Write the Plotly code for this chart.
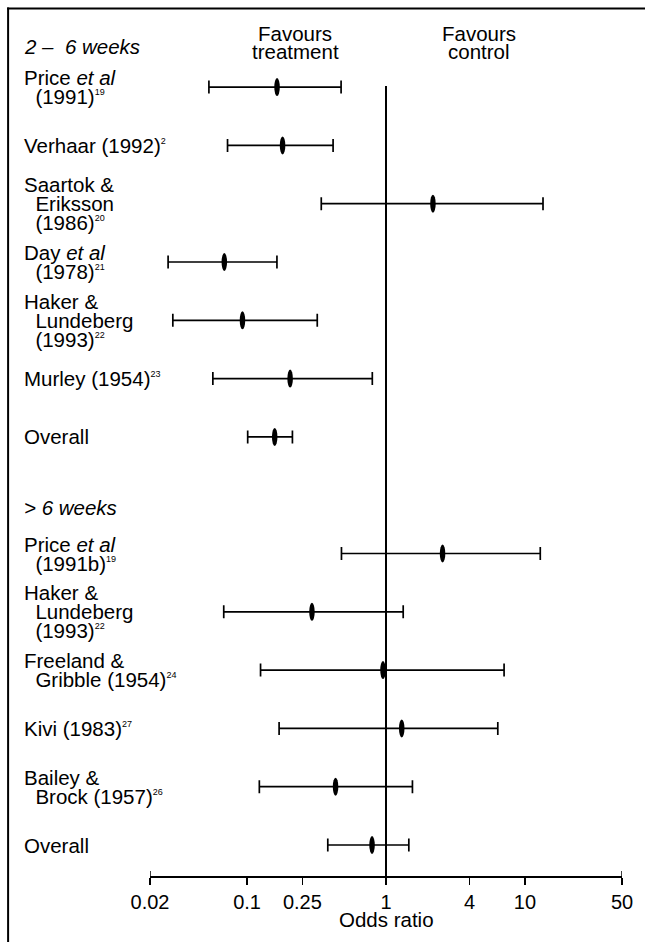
import plotly.graph_objects as go

# ---------------- data ----------------
study_lines = [
    ["Price <i>et al</i>", "(1991)<sup>19</sup>"],
    ["Verhaar (1992)<sup>2</sup>"],
    ["Saartok &", "Eriksson", "(1986)<sup>20</sup>"],
    ["Day <i>et al</i>", "(1978)<sup>21</sup>"],
    ["Haker &", "Lundeberg", "(1993)<sup>22</sup>"],
    ["Murley (1954)<sup>23</sup>"],
    ["Overall"],
    ["Price <i>et al</i>", "(1991b)<sup>19</sup>"],
    ["Haker &", "Lundeberg", "(1993)<sup>22</sup>"],
    ["Freeland &", "Gribble (1954)<sup>24</sup>"],
    ["Kivi (1983)<sup>27</sup>"],
    ["Bailey &", "Brock (1957)<sup>26</sup>"],
    ["Overall"],
]
row_pos = [0, 1, 2, 3, 4, 5, 6, 8, 9, 10, 11, 12, 13]
odds_ratio = [0.157, 0.172, 2.08, 0.0655, 0.0885, 0.195, 0.151,
              2.44, 0.280, 0.909, 1.24, 0.414, 0.758]
ci_low = [0.0531, 0.0723, 0.342, 0.0270, 0.0292, 0.0567, 0.101,
          0.478, 0.0679, 0.125, 0.170, 0.1225, 0.381]
ci_high = [0.475, 0.416, 13.5, 0.164, 0.320, 0.797, 0.212,
           12.9, 1.33, 7.08, 6.38, 1.55, 1.46]
group_titles = ["<i>2 –  6 weeks</i>", "<i>> 6 weeks</i>"]
tick_vals = [0.02, 0.1, 0.25, 1, 4, 10, 50]
tick_text = ["0.02", "0.1", "0.25", "1", "4", "10", "50"]
null_value = 1

# ---------------- layout geometry ----------------
OFF = 0  # body margin is removed in the page (see post_script below)
FONT = "Liberation Sans, Arial, Helvetica, sans-serif"
FS = 20.5
W, H = 645, 942
ML, MR, MT, MB = 150 - OFF, W - (624 - OFF), 20, H - (876 - OFF)
plot_w = W - ML - MR
plot_h = H - MT - MB
PX_PER_ROW = 58.3
y_bottom = 13 + (876 - 845) / PX_PER_ROW
y_top = y_bottom - plot_h / PX_PER_ROW


def px2paper_x(page_px):
    return (page_px - OFF - ML) / plot_w


def px2paper_y(page_py):
    return (H - MB - (page_py - OFF)) / plot_h


def sup(t):
    return t.replace("<sup>", "<sup><span style='font-size:9px'>").replace("</sup>", "</span></sup>")


fig = go.Figure()
fig.add_trace(go.Scatter(
    x=odds_ratio, y=row_pos, mode="markers",
    marker=dict(size=1, color="rgba(0,0,0,0)"),
    error_x=dict(type="data", symmetric=False,
                 array=[h - o for h, o in zip(ci_high, odds_ratio)],
                 arrayminus=[o - l for o, l in zip(odds_ratio, ci_low)],
                 color="black", thickness=1.7, width=6.5),
    hoverinfo="skip", showlegend=False,
))

shapes = []
# null line
shapes.append(dict(type="line", xref="x", yref="y", x0=null_value, x1=null_value,
                   y0=row_pos[0] - 0.02, y1=y_bottom, line=dict(color="black", width=2)))
# ellipse markers
for o, r in zip(odds_ratio, row_pos):
    shapes.append(dict(type="circle", xref="x", yref="y",
                       xsizemode="pixel", ysizemode="pixel",
                       xanchor=o, yanchor=r, x0=-5.5, x1=5.5, y0=-9, y1=9,
                       fillcolor="black", line=dict(width=0)))
# end ticks extending above axis
for tv in (tick_vals[0], tick_vals[-1]):
    shapes.append(dict(type="line", xref="x", yref="paper", ysizemode="pixel",
                       yanchor=0, x0=tv, x1=tv, y0=0, y1=5,
                       line=dict(color="black", width=1.5)))
# frame (left and top)
shapes.append(dict(type="line", xref="paper", yref="paper",
                   x0=px2paper_x(7.5), x1=px2paper_x(7.5),
                   y0=px2paper_y(7.5), y1=px2paper_y(H + 5),
                   line=dict(color="black", width=2)))
shapes.append(dict(type="line", xref="paper", yref="paper",
                   x0=px2paper_x(6.5), x1=px2paper_x(W + 5),
                   y0=px2paper_y(8.5), y1=px2paper_y(8.5),
                   line=dict(color="black", width=2)))

annotations = []
LINE_PITCH = 19
label_x = px2paper_x(21)
txtfont = dict(family=FONT, size=FS, color="black")
for lines, r in zip(study_lines, row_pos):
    n = len(lines)
    for i, t in enumerate(lines):
        shift = ((n - 1) / 2 - i) * LINE_PITCH
        text = sup(t) if i == 0 else "\u00a0\u00a0" + sup(t)
        annotations.append(dict(xref="paper", yref="y", x=label_x, y=r, yshift=shift,
                                text=text, showarrow=False, xanchor="left", yanchor="middle",
                                font=txtfont))
# group headings
annotations.append(dict(xref="paper", yref="y", x=label_x, y=row_pos[0], yshift=41,
                        text=group_titles[0], showarrow=False, xanchor="left", yanchor="middle",
                        font=txtfont))
annotations.append(dict(xref="paper", yref="y", x=label_x, y=row_pos[7], yshift=46,
                        text=group_titles[1], showarrow=False, xanchor="left", yanchor="middle",
                        font=txtfont))
# favours headers
for cx, l1, l2 in ((296, "Favours", "treatment"), (480, "Favours", "control")):
    annotations.append(dict(xref="paper", yref="paper", x=px2paper_x(cx), y=px2paper_y(33),
                            text=l1, showarrow=False, xanchor="center", yanchor="middle",
                            font=txtfont))
    annotations.append(dict(xref="paper", yref="paper", x=px2paper_x(cx), y=px2paper_y(51),
                            text=l2, showarrow=False, xanchor="center", yanchor="middle",
                            font=txtfont))
# axis title
annotations.append(dict(xref="paper", yref="paper", x=px2paper_x(388), y=px2paper_y(919),
                        text="Odds ratio", showarrow=False, xanchor="center", yanchor="middle",
                        font=txtfont))

fig.update_layout(
    width=W, height=H,
    margin=dict(l=ML, r=MR, t=MT, b=MB),
    paper_bgcolor="white", plot_bgcolor="white",
    shapes=shapes, annotations=annotations,
    xaxis=dict(type="log", range=[-1.69897, 1.69897],
               tickvals=tick_vals, ticktext=tick_text,
               ticks="outside", ticklen=7, tickwidth=1.5, tickcolor="black",
               showline=True, linecolor="black", linewidth=1.5,
               showgrid=False, zeroline=False, fixedrange=True,
               tickfont=dict(family=FONT, size=20, color="black")),
    yaxis=dict(range=[y_bottom, y_top], visible=False, showgrid=False, zeroline=False,
               fixedrange=True),
)

fig.write_html(
    "out.html",
    config={"displayModeBar": False, "staticPlot": True},
    post_script="document.body.style.margin='0';document.body.style.overflow='hidden';",
)
